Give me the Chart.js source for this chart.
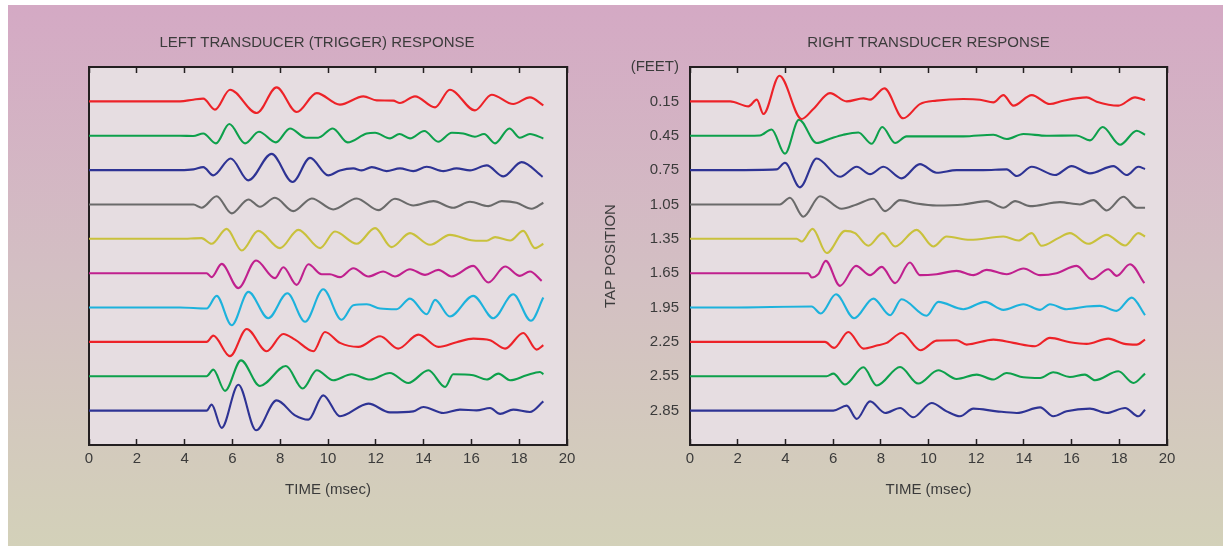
<!DOCTYPE html>
<html lang="en">
<head>
<meta charset="UTF-8">
<title>Transducer Response</title>
<script src="https://cdn.jsdelivr.net/npm/chart.js"></script>
<style>
  html, body { margin: 0; padding: 0; background: #fff; width: 1223px; height: 546px; overflow: hidden; }
  .backdrop { position: absolute; left: 8px; top: 5px; width: 1215px; height: 541px;
    background: linear-gradient(to bottom, #d4a9c4 0%, #d3bfc3 50%, #d3d1b9 100%); }
  canvas { position: absolute; top: 5px; }
  #leftChart { left: 8px; }
  #rightChart { left: 590px; }
</style>
</head>
<body>
<div class="backdrop"></div>
<canvas id="leftChart" width="582" height="541"></canvas>
<canvas id="rightChart" width="625" height="541"></canvas>
<script>
// tap positions (feet) - one trace per tap, top to bottom
const tapPositions = [0.15, 0.45, 0.75, 1.05, 1.35, 1.65, 1.95, 2.25, 2.55, 2.85];
const tapTicks = [-0.15, ...tapPositions];   // -0.15 carries the "(FEET)" unit label
const timeTicks = [0, 2, 4, 6, 8, 10, 12, 14, 16, 18, 20];
const traceColors = ['#ed2228', '#0da04b', '#2e3394', '#6a6a6a', '#c9c13c',
                     '#c0208e', '#1db2dc', '#ed2228', '#0da04b', '#2e3394'];

// each trace: [time msec, response] (turning points)
const left1 = [[0,0],[3.81,0],[4.36,1.7],[4.78,2.7],[5.27,-8.3],[5.9,11.7],[7.02,-11.7],[7.85,14],[8.69,-10.7],[9.53,8.3],[10.5,-3.3],[11.48,5],[12.04,1],[12.73,0.7],[13.01,-1.7],[13.64,5],[14.48,-6],[15.1,11.7],[16.15,-9],[16.85,6.7],[17.75,-2.7],[18.45,4],[19.01,-4]];
const left2 = [[0,0],[3.81,0],[4.36,-0.3],[4.78,2.3],[5.31,-7.7],[5.87,11.7],[6.53,-7.7],[7.11,4],[7.82,-6.7],[8.41,7.3],[9.08,-2],[9.59,-2],[10.2,7.3],[10.82,-6.7],[11.62,2.3],[11.97,3],[12.6,-2.7],[12.99,1.7],[13.43,-2.7],[14.03,4.7],[14.61,-6],[15.18,3],[15.66,2.3],[16.15,-1],[16.53,1.7],[16.99,-7.7],[17.59,7.3],[18.03,-2],[18.45,1.7],[19.01,-2.7]];
const left3 = [[0,0],[3.81,0],[4.37,0.7],[4.78,3],[5.2,-5.3],[5.93,11.7],[6.67,-10.3],[7.64,16.3],[8.52,-12],[9.25,12.3],[10.01,-5.3],[10.5,-0.3],[11.06,1.7],[11.41,-0.3],[11.83,3],[12.45,-1],[13.01,1.7],[13.57,-1],[14.13,3.3],[14.83,-1],[15.38,1.7],[15.94,-0.3],[16.64,4.7],[17.34,-6.3],[18.1,8],[18.98,-6.7]];
const left4 = [[0,0],[3.81,0],[4.37,0],[4.71,-3.3],[5.34,8.3],[5.97,-9],[6.67,5],[7.15,-2.3],[7.78,6.7],[8.55,-6.7],[9.32,6],[10.22,-5],[11.2,6],[12.11,-5.7],[12.8,5.7],[13.57,-1],[14.41,3.3],[15.24,-3.3],[15.94,2.7],[16.71,-1.7],[17.27,3.3],[17.89,1.7],[18.52,-4.3],[19.01,1.7]];
const left5 = [[0,0],[3.81,0],[4.71,0.7],[5.13,-5],[5.76,10],[6.39,-11.7],[7.08,8],[7.99,-9.3],[8.76,9],[9.67,-9.3],[10.29,7.3],[11.2,-5],[11.97,10.7],[12.66,-8.3],[13.43,5.7],[14.27,-6],[15.1,4],[16.08,-1.7],[16.64,-2],[16.99,1.7],[17.62,-1.7],[18.17,8],[18.66,-9.3],[19.01,-5]];
const left6 = [[0,0],[3.81,0],[4.92,0],[5.13,-4],[5.55,9.3],[6.25,-15],[6.99,12.7],[7.78,-5],[8.13,6],[8.69,-11.7],[9.18,9],[9.73,-1],[10.08,-1],[10.5,-4],[11.06,5],[11.69,-3.3],[12.31,1.7],[12.8,-3.3],[13.43,4],[14.06,-1.7],[14.62,3.3],[15.17,-3.3],[16.08,7.3],[16.71,-9.3],[17.41,6.7],[18.03,-2.7],[18.45,1.7],[18.94,-7.7]];
const left7 = [[0,0],[3.81,0],[4.92,-1],[5.34,11.7],[5.97,-17.7],[6.67,15.7],[7.5,-10.7],[8.3,14.3],[9.04,-14.3],[9.8,18.3],[10.57,-12.3],[11.06,2.3],[11.62,3.3],[12.18,-1],[12.87,-1.7],[13.43,9],[14.13,-6.7],[14.48,7.7],[15.1,-9],[16.08,11.7],[16.92,-10.7],[17.75,13.3],[18.49,-13.3],[19.01,10]];
const left8 = [[0,0],[3.81,0],[4.92,0],[5.2,6.3],[5.9,-14.3],[6.6,13],[7.43,-9.3],[8.13,8],[8.62,2.3],[9.39,-9.3],[9.87,10],[10.5,-1],[11.27,-5],[12.18,5.7],[12.94,-6.7],[13.78,7.3],[14.62,-5],[15.38,-0.3],[16.08,3.3],[16.78,1.7],[17.41,-6.7],[18.17,9],[18.73,-7.7],[19.01,-3.3]];
const left9 = [[0,0],[3.81,0],[4.92,0],[5.2,6.7],[5.69,-14.7],[6.36,16],[7.15,-9.7],[8.24,10.3],[8.94,-12.3],[9.53,6],[10.22,-4],[10.99,2],[11.76,-3.3],[12.59,3.3],[13.36,-6.7],[14.2,6],[14.9,-10.7],[15.24,2],[16.08,1],[16.64,-3.3],[17.13,2.7],[17.62,-4],[18.31,1],[18.87,4.3],[19.01,2]];
const left10 = [[0,0],[3.81,0],[4.92,0],[5.13,6],[5.55,-17.3],[6.25,26],[6.99,-19.7],[7.85,10.3],[8.62,-4.7],[9.18,-9],[9.8,15.3],[10.5,-5.7],[11.69,7],[12.59,-1.7],[13.57,-0.7],[13.99,3.7],[14.83,-2.3],[15.52,1],[16.22,0.3],[16.78,2.7],[17.2,-3.3],[17.75,1],[18.45,-1.3],[19.01,9.3]];

const right1 = [[0,0],[1.68,0],[2.45,-5],[2.8,1.7],[3.08,-12.7],[3.75,25.7],[4.68,-17.7],[5.17,-7.7],[5.87,8.3],[6.57,0],[7.27,3],[7.55,1.7],[8.15,13],[8.94,-17],[9.64,-2.7],[10.34,0.7],[11.46,2.3],[12.16,1.7],[12.72,-1],[13.14,6.3],[13.56,-4.3],[14.33,6.3],[15.09,-2.7],[15.65,0.7],[16.63,4],[17.05,-0.3],[17.96,-4.3],[18.66,4],[19.08,1.3]];
const right2 = [[0,0],[1.68,0],[2.93,0.3],[3.42,6.3],[3.98,-18],[4.57,16],[5.31,-7.3],[5.87,-3],[6.43,1],[7.06,3.3],[7.62,-8],[8.06,8.7],[8.6,-7.3],[9.08,-0.7],[10.06,-0.7],[11.46,-0.7],[12.72,1],[13.28,-3.3],[13.98,1.7],[14.95,0],[16.21,0.3],[16.77,-4.7],[17.3,8.7],[18.03,-9],[18.73,5],[19.08,1]];
const right3 = [[0,0],[1.68,0],[3.63,0.7],[3.98,7.3],[4.61,-17.3],[5.31,11.7],[6.29,-6.7],[6.99,3.3],[7.55,-4],[8.11,3.3],[8.87,-8.3],[9.64,6],[10.34,-2.7],[11.18,0],[12.3,0],[13.28,0.7],[13.7,-6],[14.33,3.3],[15.3,-5],[16,4],[16.77,-3.3],[17.75,4],[18.31,-5],[18.8,3.3],[19.08,1]];
const right4 = [[0,0],[1.68,0],[3.77,0],[4.19,6.7],[4.75,-12.3],[5.45,8.3],[6.36,-4.3],[6.99,0],[7.69,5.7],[8.18,-6.7],[8.81,4.3],[9.5,1],[10.34,-1],[11.46,0],[12.44,3.3],[13.14,-3.3],[13.63,3.3],[14.26,-1.7],[15.51,2.3],[16.35,0],[16.91,4.3],[17.47,-6],[18.17,7.7],[18.73,-3.3],[19.08,-3.3]];
const right5 = [[0,0],[1.68,0],[4.47,0],[4.68,-2.7],[5.14,10],[5.73,-14.3],[6.5,8],[6.92,5.7],[7.48,-7],[8.08,5.7],[8.6,-7.7],[9.5,9],[10.2,-7.7],[10.76,2.3],[11.74,-1],[13.14,2.3],[13.77,-1.7],[14.33,5.7],[14.74,-7],[15.44,0.7],[15.93,5.7],[16.7,-5],[17.47,4],[18.24,-6.7],[18.8,5.7],[19.08,2.3]];
const right6 = [[0,0],[1.68,0],[4.96,0],[5.1,-4.3],[5.38,-1],[5.69,12.3],[6.29,-12.7],[6.96,7.3],[7.55,-2],[8.04,6.3],[8.6,-10],[9.22,10.7],[9.64,-2],[10.34,-1],[11.18,2.3],[11.88,-2],[12.44,3.3],[13.28,-1],[13.98,4.7],[14.68,-2],[15.37,0],[16.21,7.3],[16.84,-6],[17.54,4],[17.89,-2.7],[18.45,9],[19.05,-10]];
const right7 = [[0,0],[1.68,0],[5.1,1],[5.48,-6],[6.12,13.3],[6.88,-10.7],[7.69,9],[8.39,-7.7],[8.87,8.3],[9.92,-8.3],[10.41,5.7],[11.46,-1.7],[12.37,5.7],[13.14,-2.3],[13.98,3.3],[14.68,-2.3],[15.09,3.3],[15.79,-1.7],[16.63,1],[17.19,1.7],[17.89,-3.3],[18.52,10],[19.08,-7.7]];
const right8 = [[0,0],[1.68,0],[5.66,0],[6.04,-6],[6.64,10],[7.27,-6.7],[7.83,-3.7],[8.25,-1],[8.87,9],[9.67,-8.3],[10.34,1.3],[11.18,1.7],[11.6,-2.7],[12.72,2.3],[13.56,-1],[14.47,-4.3],[15.09,4],[15.93,-0.3],[16.63,-2],[17.54,3.3],[18.17,-1.7],[18.73,-2.7],[19.08,2.3]];
const right9 = [[0,0],[1.68,0],[5.73,0],[6.01,2.7],[6.5,-8.3],[7.27,9],[7.83,-9.3],[8.81,9.3],[9.57,-7.3],[10.41,6],[11.18,-2.7],[12.02,1.7],[12.72,-3.3],[13.28,3.3],[13.98,-1],[14.68,-1.7],[15.23,4],[15.93,-0.7],[16.56,1.7],[16.98,-4],[17.96,5],[18.59,-6.7],[19.08,2.7]];
const right10 = [[0,0],[1.68,0],[6.01,0],[6.57,5],[6.99,-8.3],[7.55,9.3],[8.18,-2.3],[8.81,2.7],[9.36,-6.7],[10.13,7.7],[10.76,-0.7],[11.32,-5.7],[11.88,2],[12.86,-0.7],[13.7,-2.3],[14.68,3.3],[15.23,-5.7],[15.79,-0.7],[16.77,2],[17.47,-2.3],[18.24,2.7],[18.8,-5.7],[19.08,1]];

const leftSeries = [left1, left2, left3, left4, left5, left6, left7, left8, left9, left10];
const rightSeries = [right1, right2, right3, right4, right5, right6, right7, right8, right9, right10];

const AMP_TO_FEET = 0.0087;   // response unit -> offset on the tap axis
const TEXT = '#3b3b3b';
const FRAME = '#231f20';

Chart.defaults.font.family = '"Liberation Sans", Arial, Helvetica, sans-serif';
Chart.defaults.font.size = 15;

const plotBackground = {
  id: 'plotBackground',
  beforeDraw(chart) {
    const { ctx, chartArea: a } = chart;
    ctx.save();
    ctx.fillStyle = '#e6dde1';
    ctx.fillRect(a.left, a.top, a.right - a.left, a.bottom - a.top);
    ctx.restore();
  }
};

function traceDatasets(series) {
  return series.map((pts, i) => ({
    data: pts.map(([t, a]) => ({ x: t, y: tapPositions[i] - a * AMP_TO_FEET })),
    borderColor: traceColors[i],
    borderWidth: 2.1,
    pointRadius: 0,
    cubicInterpolationMode: 'monotone',
    fill: false
  }));
}

const timeTickMarks = {
  display: true, drawOnChartArea: false, drawTicks: true,
  tickLength: -6, tickColor: FRAME, tickWidth: 1.5
};
const frameBorder = { display: true, color: FRAME, width: 2 };

function makeChart(id, title, series, opt) {
  return new Chart(document.getElementById(id), {
    type: 'line',
    data: { datasets: traceDatasets(series) },
    options: {
      responsive: false,
      animation: false,
      layout: { padding: opt.padding },
      plugins: {
        legend: { display: false },
        tooltip: { enabled: false },
        title: {
          display: true, text: title, fullSize: opt.fullTitle, color: TEXT,
          font: { size: 15, weight: 'normal' }, padding: { top: 29, bottom: 15 }
        }
      },
      scales: {
        x: {
          type: 'linear', position: 'bottom', min: 0, max: 20,
          afterBuildTicks: s => { s.ticks = timeTicks.map(v => ({ value: v })); },
          ticks: { color: TEXT, padding: 11, autoSkip: false, maxRotation: 0, callback: v => String(v) },
          grid: timeTickMarks,
          border: frameBorder,
          title: { display: true, text: 'TIME (msec)', color: TEXT, padding: { top: 0, bottom: 0 } },
          afterFit: s => { s.height = 54; }
        },
        x2: {
          type: 'linear', position: 'top', min: 0, max: 20,
          afterBuildTicks: s => { s.ticks = timeTicks.map(v => ({ value: v })); },
          ticks: { display: false },
          grid: timeTickMarks,
          border: frameBorder,
          afterFit: s => { s.height = 0; }
        },
        y: {
          type: 'linear', position: 'left', reverse: true, min: -0.15, max: 3.15,
          afterBuildTicks: s => { s.ticks = tapTicks.map(v => ({ value: v })); },
          ticks: {
            display: opt.showTaps, color: TEXT, padding: 11, autoSkip: false,
            callback: v => v < 0 ? '(FEET)' : v.toFixed(2)
          },
          grid: { display: false, drawTicks: false },
          border: frameBorder,
          title: { display: opt.showTaps, text: 'TAP POSITION', color: TEXT, padding: { top: 12, bottom: 0 } },
          afterFit: s => { s.width = opt.yWidth; }
        },
        y2: {
          type: 'linear', position: 'right', min: -0.15, max: 3.15,
          ticks: { display: false },
          grid: { display: false, drawTicks: false },
          border: frameBorder,
          afterFit: s => { s.width = 0; }
        }
      }
    },
    plugins: [plotBackground]
  });
}

makeChart('leftChart', 'LEFT TRANSDUCER (TRIGGER) RESPONSE', leftSeries,
  { padding: { left: 59, right: 23, top: 0, bottom: 47 }, yWidth: 22, fullTitle: true, showTaps: false });
makeChart('rightChart', 'RIGHT TRANSDUCER RESPONSE', rightSeries,
  { padding: { left: 0, right: 48, top: 0, bottom: 47 }, yWidth: 100, fullTitle: false, showTaps: true });
</script>
</body>
</html>
